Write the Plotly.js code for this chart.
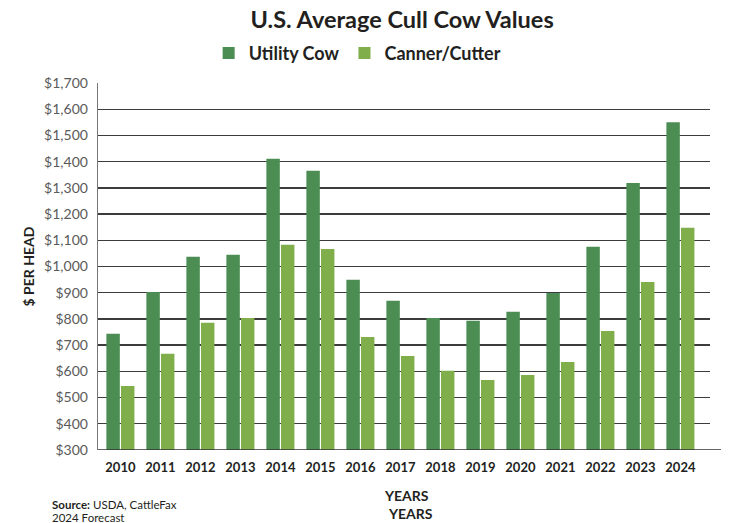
<!DOCTYPE html>
<html>
<head>
<meta charset="utf-8">
<script src="https://cdn.plot.ly/plotly-3.0.1.min.js"></script>
<style>html,body{margin:0;padding:0;background:#fff}#chart{width:742px;height:523px}</style>
</head>
<body>
<div id="chart"></div>
<script>
const years = ["2010","2011","2012","2013","2014","2015","2016","2017","2018","2019","2020","2021","2022","2023","2024"];
const utilityCow = [743, 903, 1037, 1045, 1411, 1365, 949, 869, 804, 793, 827, 899, 1075, 1319, 1550];
const cannerCutter = [544, 667, 785, 804, 1083, 1067, 731, 659, 602, 567, 586, 636, 754, 941, 1148];
const yTicks = [300,400,500,600,700,800,900,1000,1100,1200,1300,1400,1500,1600,1700];

const font = "Lato, 'Open Sans', sans-serif";
const traces = [
  {type:"bar", name:"<b>Utility Cow</b>", x:years, y:utilityCow, marker:{color:"#4b8d53"}, hoverinfo:"x+y"},
  {type:"bar", name:"<b>Canner/Cutter</b>", x:years, y:cannerCutter, marker:{color:"#7fae4a"}, hoverinfo:"x+y"}
];
const layout = {
  width:742, height:523,
  margin:{l:98, r:32, t:83, b:73},
  paper_bgcolor:"#fff", plot_bgcolor:"#fff",
  font:{family:font, color:"#222"},
  title:{text:"<b>U.S. Average Cull Cow Values</b>", x:0.497, xref:"paper", xanchor:"center", y:0.962, yanchor:"middle", font:{size:23.5, color:"#231f20", family:font, weight:900}},
  showlegend:true,
  legend:{orientation:"h", x:0.482, xref:"container", xanchor:"center", y:0.898, yref:"container", yanchor:"middle", font:{size:18, color:"#231f20", family:font}, traceorder:"normal", itemwidth:30},
  barmode:"group", bargap:0.27, bargroupgap:0.08,
  xaxis:{type:"category", range:[-0.56, 14.74], showgrid:false, zeroline:false, showline:false, ticks:"", tickfont:{size:13, color:"#231f20", family:font}, ticklabelstandoff:8, fixedrange:true,
    tickvals:years, ticktext:years.map(y=>"<b>"+y+"</b>")},
  yaxis:{range:[300,1700], tickvals:yTicks, ticktext:yTicks.map(v=>"$"+v.toLocaleString("en-US")), showgrid:true, gridcolor:"#3c3c3c", gridwidth:1.3, zeroline:false,
    showline:true, linecolor:"#777", linewidth:1.3, ticks:"", tickfont:{size:14, color:"#5a5a5a", family:font}, ticklabelstandoff:6,
    title:{text:"<b>$ PER HEAD</b>", font:{size:14, color:"#231f20", family:font}, standoff:6}},
  shapes:[{type:"line", xref:"paper", yref:"y", x0:0, x1:1.018, y0:300, y1:300, line:{color:"#333", width:1.5}}],
  annotations:[
    {text:"<b>YEARS</b>", xref:"paper", yref:"paper", x:(406-98)/612, y:-(495-450)/367, xanchor:"center", yanchor:"middle", showarrow:false, font:{size:14, color:"#231f20", family:font}},
    {text:"<b>YEARS</b>", xref:"paper", yref:"paper", x:(410-98)/612, y:-(513-450)/367, xanchor:"center", yanchor:"middle", showarrow:false, font:{size:14, color:"#231f20", family:font}},
    {text:"<b>Source:</b> USDA, CattleFax", xref:"paper", yref:"paper", x:(50-98)/612, y:-(504-450)/367, xanchor:"left", yanchor:"middle", align:"left", showarrow:false, font:{size:11.5, color:"#231f20", family:font}},
    {text:"2024 Forecast", xref:"paper", yref:"paper", x:(50-98)/612, y:-(517-450)/367, xanchor:"left", yanchor:"middle", align:"left", showarrow:false, font:{size:11.5, color:"#231f20", family:font}}
  ]
};
Plotly.newPlot("chart", traces, layout, {displayModeBar:false, staticPlot:true});
</script>
</body>
</html>
